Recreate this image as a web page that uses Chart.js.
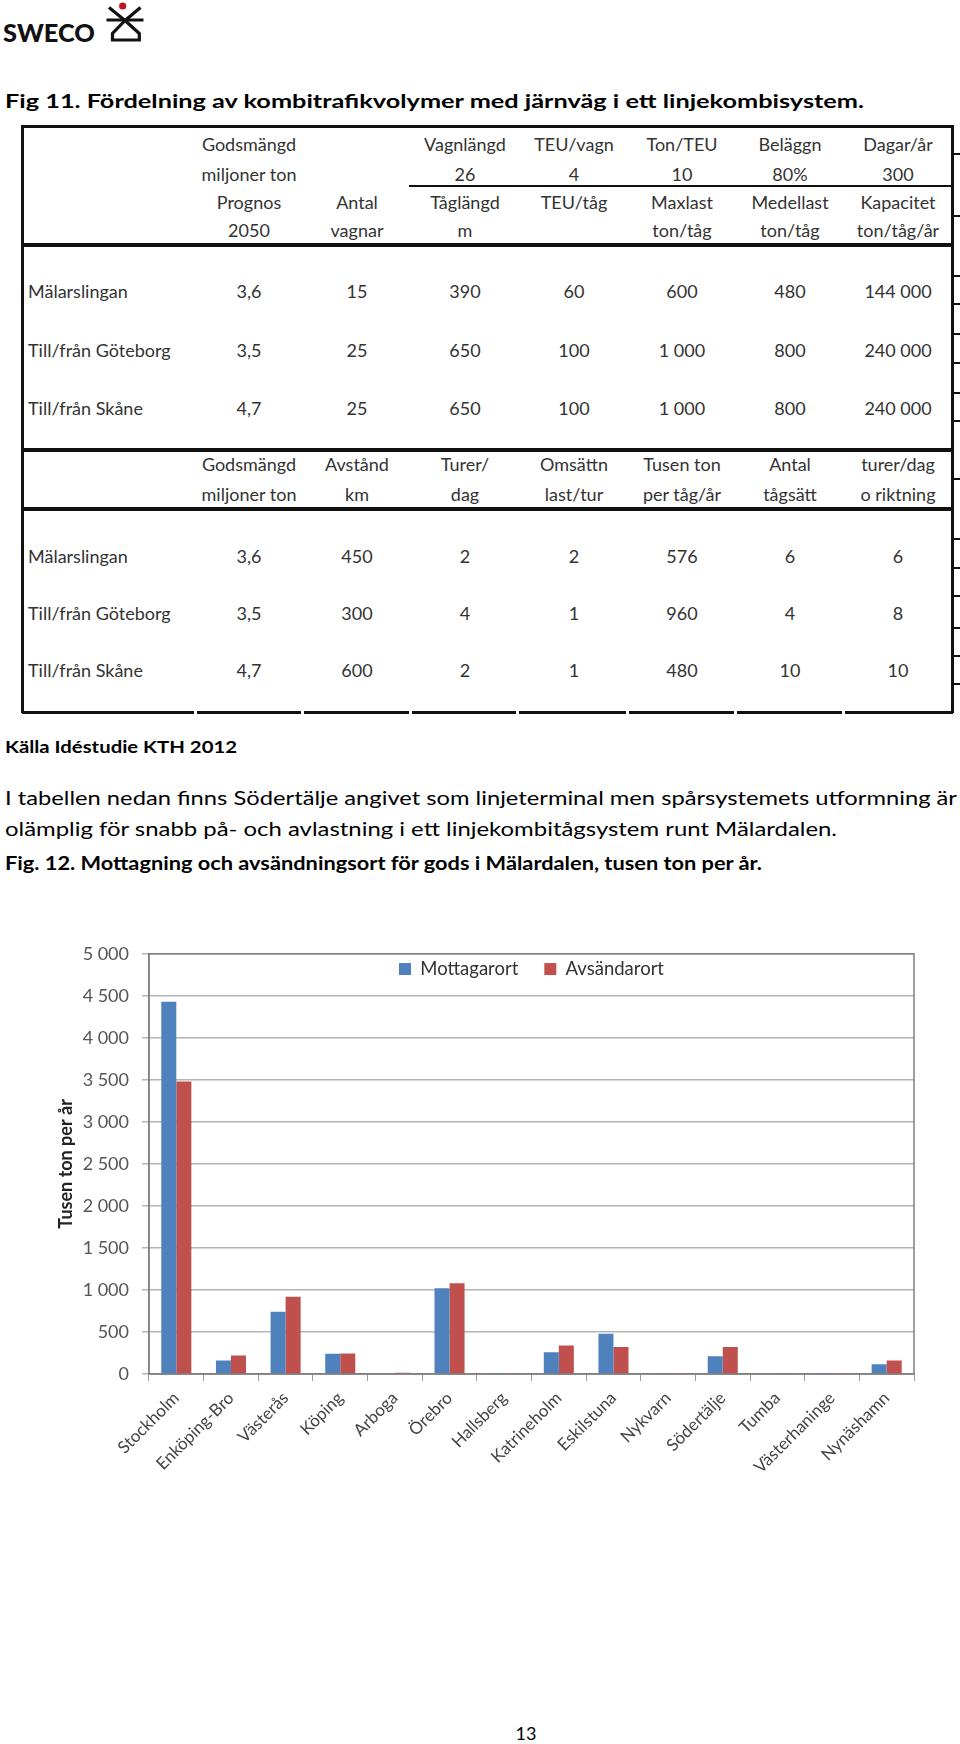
<!DOCTYPE html>
<html><head><meta charset="utf-8">
<script src="https://cdn.jsdelivr.net/npm/chart.js@4.4.1/dist/chart.umd.min.js"></script>
<style>
html,body{margin:0;padding:0;background:#fff;}
body{width:960px;height:1744px;position:relative;overflow:hidden;font-family:Lato,"Open Sans",sans-serif;}
.t{position:absolute;white-space:nowrap;line-height:1;}
.ln{position:absolute;background:#111;}
#chartWrap{position:absolute;left:0;top:930px;width:960px;height:560px;}
</style></head><body>
<svg style="position:absolute;left:0;top:0" width="160" height="48">
  <circle cx="122.7" cy="6" r="3.6" fill="#c0141c"/>
  <g stroke="#111" stroke-width="3.2" fill="none" stroke-linejoin="miter">
    <line x1="109" y1="7.5" x2="125" y2="20.5"/>
    <line x1="140.5" y1="7.5" x2="125" y2="20.5"/>
    <line x1="106.5" y1="20" x2="143.5" y2="20"/>
    <polyline points="125,20.5 112.5,33.5 112.5,40 139.3,40 139.3,33.5 125,20.5"/>
  </g>
</svg>
<div id="chartWrap"><canvas id="c" width="960" height="560"></canvas></div>
<script>
// ---------- chart data ----------
const categories = ['Stockholm','Enköping-Bro','Västerås','Köping','Arboga','Örebro','Hallsberg','Katrineholm','Eskilstuna','Nykvarn','Södertälje','Tumba','Västerhaninge','Nynäshamn'];
const mottagarort = [4430,160,740,240,10,1020,5,260,480,5,210,0,5,115];
const avsandarort = [3480,220,920,245,15,1080,5,340,320,5,320,5,5,160];
const seriesNames = ['Mottagarort','Avsändarort'];
const yTickStep = 500;
const yMax = 5000;

// ---------- table data ----------
const colX = [249,357,465,574,682,790,898];
const t1Head = [
  ['Godsmängd','','Vagnlängd','TEU/vagn','Ton/TEU','Beläggn','Dagar/år'],
  ['miljoner ton','','26','4','10','80%','300'],
  ['Prognos','Antal','Tåglängd','TEU/tåg','Maxlast','Medellast','Kapacitet'],
  ['2050','vagnar','m','','ton/tåg','ton/tåg','ton/tåg/år']
];
const t1HeadBase = [151,181,209,237];
const t1Rows = [
  ['Mälarslingan','3,6','15','390','60','600','480','144 000'],
  ['Till/från Göteborg','3,5','25','650','100','1 000','800','240 000'],
  ['Till/från Skåne','4,7','25','650','100','1 000','800','240 000']
];
const t1RowBase = [298,357,415];
const t2Head = [
  ['Godsmängd','Avstånd','Turer/','Omsättn','Tusen ton','Antal','turer/dag'],
  ['miljoner ton','km','dag','last/tur','per tåg/år','tågsätt','o riktning']
];
const t2HeadBase = [471,501];
const t2Rows = [
  ['Mälarslingan','3,6','450','2','2','576','6','6'],
  ['Till/från Göteborg','3,5','300','4','1','960','4','8'],
  ['Till/från Skåne','4,7','600','2','1','480','10','10']
];
const t2RowBase = [563,620,677];

// ---------- helpers ----------
function T(txt,x,base,fs,o){
  o=o||{};
  const d=document.createElement('div');d.className='t';d.textContent=txt;
  d.style.fontSize=fs+'px';d.style.top=(base-0.887*fs)+'px';
  if(o.b)d.style.fontWeight=o.b;
  d.style.color=o.c||'#000';
  d.style.left='0px';
  document.body.appendChild(d);
  const w=d.getBoundingClientRect().width;
  const sx=o.w? o.w/w:1;
  const ww=w*sx;
  const left=o.a==='c'? x-ww/2 : x;
  d.style.left=left+'px';
  d.style.transformOrigin='0 0';
  if(sx!==1)d.style.transform='scaleX('+sx+')';
}
function L(x,y,w,h,c){
  const d=document.createElement('div');d.className='ln';
  d.style.left=x+'px';d.style.top=y+'px';d.style.width=w+'px';d.style.height=h+'px';
  if(c)d.style.background=c;
  document.body.appendChild(d);
}

// ---------- page text ----------
T('SWECO',3,42,24,{b:900,w:92,c:'#111'});
T('Fig 11. Fördelning av kombitrafikvolymer med järnväg i ett linjekombisystem.',5,108,19,{b:700,w:859});

const tc='#333', tfs=18;
t1Head.forEach((r,i)=>r.forEach((s,j)=>{ if(s) T(s,colX[j],t1HeadBase[i],tfs,{a:'c',c:tc}); }));
t1Rows.forEach((r,i)=>{ T(r[0],28,t1RowBase[i],tfs,{c:tc}); r.slice(1).forEach((s,j)=>T(s,colX[j],t1RowBase[i],tfs,{a:'c',c:tc})); });
t2Head.forEach((r,i)=>r.forEach((s,j)=>{ if(s) T(s,colX[j],t2HeadBase[i],tfs,{a:'c',c:tc}); }));
t2Rows.forEach((r,i)=>{ T(r[0],28,t2RowBase[i],tfs,{c:tc}); r.slice(1).forEach((s,j)=>T(s,colX[j],t2RowBase[i],tfs,{a:'c',c:tc})); });

// table lines
L(21,125,933,3); // top
L(21,125,3,588); // left
L(951,125,3,588); // right
L(409,185,543,2); // under 26
L(21,243,933,4);
L(21,448,933,4);
L(21,507,933,4);
const segs=[[22,194],[197,301],[304,409],[412,516],[519,626],[629,734],[737,842],[845,953]];
segs.forEach(s=>L(s[0],711,s[1]-s[0],3));
[153,215,275,303,333,362,392,420,478,538,567,595,627,655,683].forEach(y=>L(954,y,6,2));

T('Källa Idéstudie KTH 2012',5,753,17,{b:700,w:232});
T('I tabellen nedan finns Södertälje angivet som linjeterminal men spårsystemets utformning är',5,805,18.5,{w:952});
T('olämplig för snabb på- och avlastning i ett linjekombitågsystem runt Mälardalen.',5,836,18.5,{w:832});
T('Fig. 12. Mottagning och avsändningsort för gods i Mälardalen, tusen ton per år.',5,870,18,{b:700,w:757});
T('13',526,1740,18,{a:'c'});

// ---------- chart ----------
function fmt(v){ return v>=1000 ? Math.floor(v/1000)+' '+String(v%1000).padStart(3,'0') : String(v); }
const frame={id:'frame',beforeDatasetsDraw(ch){const a=ch.chartArea,c=ch.ctx;c.save();c.strokeStyle='#7f7f7f';c.lineWidth=1.5;c.strokeRect(a.left,a.top,a.right-a.left,a.bottom-a.top);c.restore();}};
// legend sits inside the plot area (takes no layout space)
const legendInside={id:'legendInside',
  beforeLayout(ch){const lg=ch.legend;if(lg&&!lg._inside){const p=Object.getPrototypeOf(lg);
    lg.fit=function(){p.fit.call(this);this._realH=this.height;this.height=0;};
    lg.draw=function(){if(this.options.display){this._draw();}};
    lg._inside=true;}},
  afterLayout(ch){const lg=ch.legend;if(lg&&lg._realH){lg.top-=20;lg.height=lg._realH;lg.bottom=lg.top+lg._realH;}}
};
new Chart(document.getElementById('c'),{
  type:'bar',
  data:{labels:categories,datasets:[
    {label:seriesNames[0],data:mottagarort,backgroundColor:'#4F81BD',categoryPercentage:0.55,barPercentage:1},
    {label:seriesNames[1],data:avsandarort,backgroundColor:'#C0504D',categoryPercentage:0.55,barPercentage:1}
  ]},
  options:{
    responsive:false,animation:false,devicePixelRatio:1,
    layout:{padding:{top:20,right:46,left:0,bottom:0}},
    font:{family:'Lato'},
    plugins:{
      legend:{position:'top',fullSize:false,align:'center',labels:{boxWidth:12,boxHeight:12,font:{size:18.5,family:'Lato'},color:'#333',padding:26}},
      tooltip:{enabled:false}
    },
    scales:{
      x:{
        grid:{offset:true,drawOnChartArea:false,tickLength:7,color:'#999'},
        border:{color:'#8a8a8a',width:1.5},
        ticks:{minRotation:45,maxRotation:45,autoSkip:false,font:{size:17,family:'Lato'},color:'#444',padding:7},
        afterFit(s){s.height=116;}
      },
      y:{
        min:0,max:yMax,
        ticks:{stepSize:yTickStep,font:{size:18,family:'Lato'},color:'#555',padding:13,callback:v=>fmt(v)},
        grid:{color:'#b4b4b4',lineWidth:1.5,tickLength:7},
        border:{color:'#8a8a8a',width:1.5},
        title:{display:true,text:'Tusen ton per år',font:{size:18,weight:'bold',family:'Lato'},color:'#222',padding:{top:55,bottom:0}},
        afterFit(s){s.width=149;}
      }
    }
  },
  plugins:[frame,legendInside]
});
</script>
</body></html>
